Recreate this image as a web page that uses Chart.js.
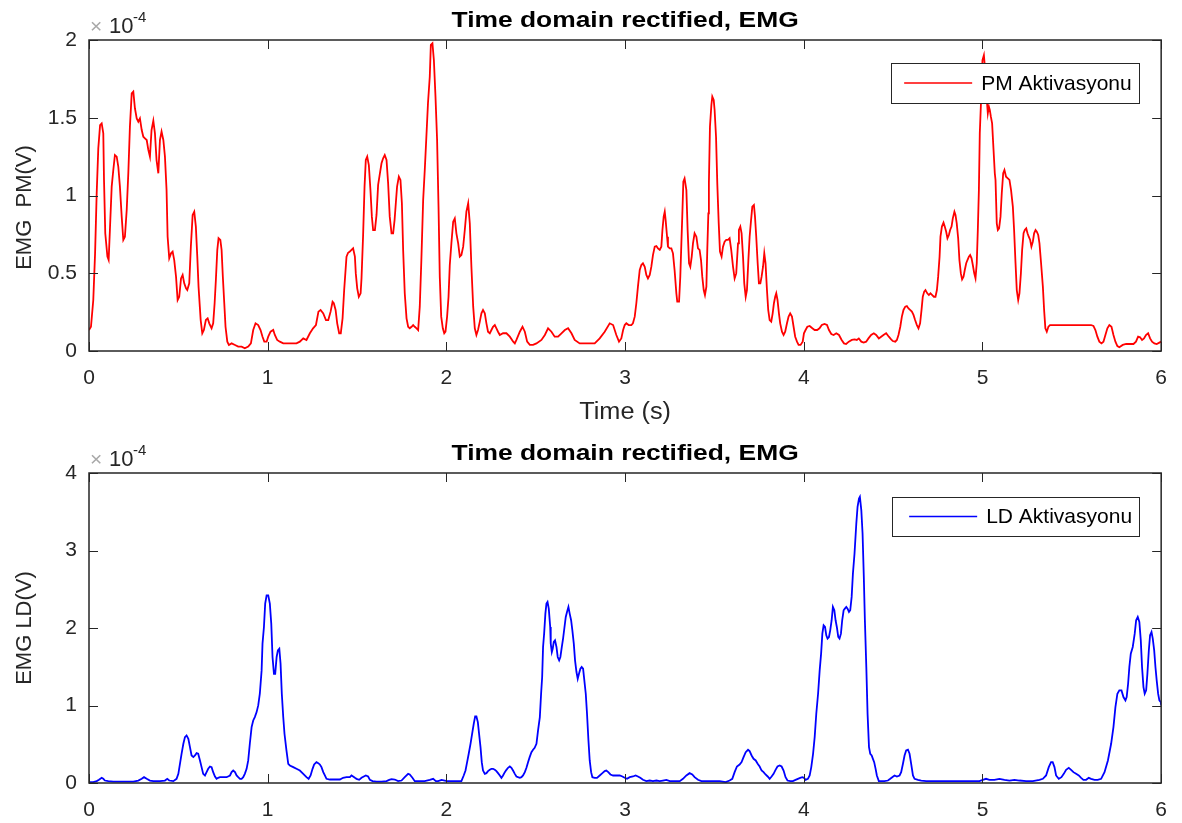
<!DOCTYPE html>
<html><head><meta charset="utf-8">
<script src="https://cdn.jsdelivr.net/npm/chart.js@4.4.1/dist/chart.umd.min.js"></script>
<style>
html,body{margin:0;padding:0;background:#fff;}
#wrap{position:relative;width:1182px;height:823px;overflow:hidden;background:#fff;}
canvas{position:absolute;left:0;background:transparent;}
#c1{top:0;} #c2{top:412px;}
</style></head><body>
<div id="wrap"><canvas id="c1" width="1182" height="440"></canvas><canvas id="c2" width="1182" height="411"></canvas></div>
<script>
// ---- data (values in units of 1e-4 V) ----
const pmPoints = [
[0,0.135],[0.011,0.156],[0.024,0.328],[0.034,0.628],[0.043,1.014],[0.052,1.303],[0.062,1.453],[0.071,1.464],[0.080,1.400],[0.084,1.100],
[0.091,0.757],[0.103,0.607],[0.110,0.585],[0.117,0.778],[0.127,1.057],[0.136,1.164],[0.145,1.260],[0.155,1.250],[0.164,1.185],[0.173,1.057],
[0.183,0.864],[0.192,0.714],[0.201,0.735],[0.211,0.907],[0.220,1.143],[0.229,1.443],[0.239,1.657],[0.248,1.668],[0.257,1.561],[0.267,1.496],
[0.276,1.475],[0.285,1.496],[0.295,1.421],[0.304,1.378],[0.313,1.368],[0.323,1.357],[0.332,1.293],[0.341,1.250],[0.350,1.421],[0.360,1.481],
[0.369,1.400],[0.378,1.228],[0.388,1.143],[0.397,1.357],[0.406,1.411],[0.416,1.357],[0.425,1.250],[0.434,1.035],[0.440,0.735],[0.449,0.596],
[0.459,0.628],[0.468,0.639],[0.477,0.585],[0.487,0.478],[0.496,0.328],[0.505,0.349],[0.515,0.467],[0.524,0.489],[0.533,0.435],[0.543,0.403],
[0.550,0.392],[0.561,0.435],[0.570,0.671],[0.580,0.875],[0.589,0.896],[0.598,0.800],[0.606,0.607],[0.613,0.414],[0.625,0.199],[0.634,0.114],
[0.643,0.135],[0.654,0.199],[0.664,0.210],[0.673,0.178],[0.686,0.146],[0.695,0.178],[0.703,0.307],[0.710,0.457],[0.718,0.650],[0.725,0.725],
[0.735,0.714],[0.742,0.650],[0.749,0.478],[0.757,0.307],[0.764,0.156],[0.774,0.060],[0.783,0.039],[0.798,0.049],[0.817,0.039],[0.835,0.028],
[0.854,0.028],[0.872,0.017],[0.891,0.028],[0.906,0.049],[0.919,0.135],[0.932,0.178],[0.947,0.167],[0.960,0.135],[0.971,0.092],[0.981,0.060],
[0.994,0.060],[1.003,0.092],[1.016,0.124],[1.031,0.135],[1.040,0.103],[1.053,0.071],[1.068,0.060],[1.087,0.049],[1.115,0.049],[1.143,0.049],
[1.161,0.049],[1.180,0.060],[1.199,0.081],[1.217,0.071],[1.236,0.114],[1.254,0.146],[1.270,0.167],[1.284,0.253],[1.296,0.264],[1.311,0.242],
[1.326,0.199],[1.339,0.199],[1.352,0.253],[1.363,0.317],[1.370,0.307],[1.380,0.264],[1.389,0.178],[1.400,0.114],[1.409,0.114],[1.419,0.210],
[1.428,0.392],[1.441,0.607],[1.450,0.632],[1.460,0.640],[1.469,0.650],[1.478,0.660],[1.488,0.607],[1.493,0.499],[1.501,0.403],[1.510,0.349],
[1.520,0.371],[1.525,0.467],[1.534,0.746],[1.542,1.057],[1.549,1.228],[1.557,1.250],[1.566,1.196],[1.575,1.035],[1.583,0.864],[1.590,0.778],
[1.600,0.778],[1.609,0.875],[1.618,1.068],[1.628,1.143],[1.637,1.207],[1.646,1.239],[1.655,1.260],[1.665,1.228],[1.674,1.078],[1.683,0.864],
[1.693,0.757],[1.702,0.757],[1.710,0.842],[1.717,0.950],[1.724,1.057],[1.734,1.121],[1.743,1.100],[1.751,0.950],[1.758,0.650],[1.767,0.371],
[1.777,0.210],[1.786,0.156],[1.795,0.146],[1.805,0.156],[1.814,0.167],[1.823,0.156],[1.833,0.146],[1.842,0.135],[1.851,0.285],[1.860,0.585],
[1.870,0.971],[1.879,1.164],[1.888,1.378],[1.897,1.593],[1.907,1.764],[1.913,1.968],[1.922,1.979],[1.930,1.871],[1.939,1.636],[1.948,1.357],
[1.956,0.928],[1.963,0.478],[1.971,0.221],[1.980,0.146],[1.988,0.114],[1.995,0.124],[2.004,0.221],[2.012,0.349],[2.019,0.553],[2.028,0.692],
[2.038,0.832],[2.047,0.853],[2.056,0.757],[2.066,0.692],[2.075,0.607],[2.084,0.617],[2.094,0.671],[2.103,0.778],[2.112,0.896],[2.122,0.950],
[2.131,0.821],[2.140,0.542],[2.150,0.285],[2.159,0.146],[2.168,0.103],[2.177,0.135],[2.187,0.189],[2.196,0.242],[2.205,0.264],[2.215,0.242],
[2.224,0.178],[2.233,0.124],[2.243,0.114],[2.252,0.135],[2.261,0.156],[2.271,0.167],[2.280,0.146],[2.289,0.124],[2.299,0.103],[2.317,0.114],
[2.336,0.114],[2.355,0.092],[2.374,0.060],[2.383,0.049],[2.392,0.071],[2.411,0.124],[2.426,0.156],[2.439,0.124],[2.452,0.060],[2.467,0.039],
[2.485,0.039],[2.504,0.049],[2.532,0.071],[2.551,0.103],[2.569,0.146],[2.588,0.124],[2.606,0.092],[2.625,0.092],[2.644,0.114],[2.663,0.135],
[2.681,0.146],[2.700,0.114],[2.718,0.071],[2.746,0.049],[2.774,0.049],[2.802,0.049],[2.830,0.049],[2.858,0.081],[2.886,0.124],[2.914,0.178],
[2.933,0.167],[2.951,0.103],[2.966,0.060],[2.979,0.081],[2.989,0.135],[2.998,0.167],[3.007,0.178],[3.020,0.167],[3.035,0.167],[3.044,0.178],
[3.054,0.221],[3.063,0.307],[3.072,0.414],[3.082,0.521],[3.091,0.553],[3.100,0.564],[3.110,0.542],[3.119,0.489],[3.128,0.467],[3.138,0.489],
[3.147,0.542],[3.156,0.617],[3.166,0.671],[3.175,0.675],[3.184,0.660],[3.194,0.650],[3.203,0.671],[3.209,0.778],[3.216,0.864],[3.222,0.896],
[3.227,0.842],[3.235,0.735],[3.240,0.671],[3.250,0.660],[3.259,0.660],[3.268,0.628],[3.277,0.521],[3.287,0.371],[3.292,0.317],[3.302,0.317],
[3.309,0.478],[3.315,0.692],[3.320,0.864],[3.326,1.089],[3.333,1.110],[3.343,1.035],[3.350,0.778],[3.358,0.564],[3.365,0.542],[3.373,0.607],
[3.380,0.692],[3.389,0.757],[3.399,0.735],[3.408,0.660],[3.417,0.650],[3.425,0.585],[3.432,0.478],[3.440,0.392],[3.447,0.360],[3.455,0.414],
[3.460,0.650],[3.466,0.885],[3.469,1.078],[3.475,1.443],[3.483,1.582],[3.488,1.636],[3.496,1.614],[3.501,1.550],[3.509,1.378],[3.516,1.078],
[3.524,0.821],[3.531,0.639],[3.540,0.607],[3.548,0.671],[3.557,0.703],[3.566,0.714],[3.576,0.714],[3.585,0.725],[3.594,0.650],[3.604,0.542],
[3.613,0.467],[3.622,0.499],[3.632,0.692],[3.637,0.778],[3.645,0.800],[3.652,0.757],[3.660,0.607],[3.667,0.435],[3.675,0.349],[3.682,0.392],
[3.690,0.585],[3.697,0.735],[3.705,0.842],[3.712,0.928],[3.721,0.939],[3.727,0.864],[3.734,0.735],[3.742,0.564],[3.749,0.435],[3.757,0.435],
[3.764,0.478],[3.772,0.542],[3.779,0.628],[3.786,0.564],[3.794,0.392],[3.801,0.264],[3.809,0.199],[3.818,0.189],[3.826,0.242],[3.833,0.307],
[3.840,0.349],[3.846,0.371],[3.853,0.328],[3.861,0.242],[3.868,0.178],[3.878,0.124],[3.887,0.103],[3.896,0.124],[3.906,0.178],[3.915,0.221],
[3.924,0.242],[3.934,0.221],[3.943,0.156],[3.952,0.092],[3.962,0.060],[3.971,0.039],[3.982,0.039],[3.994,0.060],[4.001,0.114],[4.010,0.135],
[4.020,0.156],[4.033,0.161],[4.048,0.146],[4.061,0.135],[4.075,0.135],[4.088,0.146],[4.101,0.167],[4.116,0.174],[4.130,0.167],[4.141,0.135],
[4.154,0.109],[4.167,0.103],[4.182,0.114],[4.197,0.103],[4.212,0.071],[4.225,0.049],[4.237,0.045],[4.252,0.060],[4.269,0.071],[4.284,0.075],
[4.297,0.071],[4.308,0.081],[4.322,0.060],[4.335,0.054],[4.349,0.060],[4.362,0.081],[4.377,0.103],[4.392,0.114],[4.405,0.103],[4.420,0.081],
[4.433,0.092],[4.446,0.103],[4.461,0.114],[4.476,0.092],[4.489,0.075],[4.498,0.064],[4.512,0.060],[4.521,0.071],[4.530,0.103],[4.540,0.156],
[4.549,0.221],[4.558,0.264],[4.568,0.285],[4.577,0.289],[4.586,0.274],[4.595,0.264],[4.605,0.253],[4.614,0.232],[4.623,0.199],[4.633,0.167],
[4.642,0.146],[4.651,0.178],[4.659,0.264],[4.666,0.349],[4.674,0.382],[4.681,0.392],[4.691,0.371],[4.700,0.360],[4.709,0.371],[4.719,0.360],
[4.728,0.349],[4.737,0.349],[4.745,0.392],[4.752,0.478],[4.760,0.607],[4.765,0.735],[4.773,0.800],[4.782,0.825],[4.789,0.800],[4.797,0.767],
[4.804,0.725],[4.812,0.746],[4.819,0.778],[4.827,0.800],[4.834,0.853],[4.843,0.896],[4.849,0.875],[4.856,0.821],[4.864,0.725],[4.871,0.585],
[4.879,0.499],[4.886,0.461],[4.894,0.478],[4.901,0.521],[4.909,0.564],[4.916,0.585],[4.924,0.607],[4.931,0.617],[4.939,0.596],[4.946,0.553],
[4.954,0.499],[4.961,0.467],[4.968,0.564],[4.974,0.778],[4.980,1.035],[4.985,1.400],[4.993,1.636],[5.000,1.871],[5.008,1.903],[5.015,1.807],
[5.023,1.636],[5.030,1.528],[5.036,1.571],[5.041,1.550],[5.047,1.507],[5.054,1.464],[5.062,1.293],[5.069,1.143],[5.073,1.100],[5.080,0.821],
[5.086,0.778],[5.093,0.789],[5.101,0.864],[5.108,1.014],[5.116,1.143],[5.123,1.164],[5.132,1.121],[5.142,1.110],[5.151,1.100],[5.160,1.035],
[5.170,0.928],[5.177,0.778],[5.185,0.564],[5.192,0.392],[5.200,0.328],[5.207,0.371],[5.215,0.499],[5.222,0.650],[5.230,0.757],[5.237,0.778],
[5.245,0.789],[5.252,0.757],[5.259,0.735],[5.267,0.714],[5.274,0.671],[5.282,0.703],[5.289,0.757],[5.297,0.778],[5.304,0.767],[5.312,0.746],
[5.319,0.692],[5.328,0.564],[5.338,0.414],[5.345,0.264],[5.352,0.146],[5.360,0.124],[5.369,0.156],[5.378,0.167],[5.431,0.167],[5.524,0.167],
[5.608,0.167],[5.621,0.161],[5.632,0.135],[5.643,0.092],[5.654,0.060],[5.666,0.049],[5.677,0.060],[5.688,0.103],[5.699,0.146],[5.710,0.167],
[5.722,0.156],[5.733,0.103],[5.744,0.060],[5.755,0.032],[5.766,0.024],[5.785,0.039],[5.804,0.045],[5.822,0.045],[5.845,0.045],[5.859,0.060],
[5.871,0.092],[5.882,0.088],[5.893,0.071],[5.904,0.081],[5.915,0.103],[5.927,0.114],[5.938,0.081],[5.949,0.060],[5.962,0.049],[5.975,0.045],
[5.990,0.054],[6.000,0.060]
];
const ldPoints = [
[0,0.011],[0.024,0.011],[0.043,0.024],[0.056,0.041],[0.071,0.067],[0.080,0.054],[0.089,0.032],[0.108,0.024],[0.136,0.019],[0.173,0.019],
[0.211,0.019],[0.248,0.019],[0.276,0.032],[0.295,0.054],[0.308,0.075],[0.323,0.054],[0.341,0.032],[0.360,0.024],[0.397,0.024],[0.425,0.032],
[0.438,0.054],[0.449,0.032],[0.472,0.024],[0.490,0.054],[0.500,0.118],[0.509,0.248],[0.518,0.377],[0.528,0.506],[0.537,0.592],[0.546,0.614],
[0.556,0.571],[0.565,0.463],[0.574,0.355],[0.584,0.334],[0.593,0.355],[0.602,0.385],[0.611,0.377],[0.621,0.291],[0.630,0.205],[0.639,0.118],
[0.649,0.097],[0.658,0.140],[0.667,0.183],[0.677,0.213],[0.686,0.205],[0.695,0.140],[0.705,0.084],[0.714,0.054],[0.723,0.067],[0.733,0.075],
[0.751,0.075],[0.770,0.075],[0.789,0.097],[0.798,0.140],[0.807,0.161],[0.817,0.140],[0.826,0.097],[0.835,0.075],[0.845,0.054],[0.854,0.054],
[0.863,0.075],[0.872,0.118],[0.882,0.183],[0.891,0.291],[0.900,0.506],[0.910,0.721],[0.919,0.807],[0.928,0.851],[0.938,0.915],[0.947,1.001],
[0.956,1.152],[0.966,1.453],[0.971,1.798],[0.979,2.013],[0.986,2.315],[0.994,2.422],[1.003,2.422],[1.012,2.315],[1.020,2.056],[1.027,1.626],
[1.035,1.410],[1.042,1.410],[1.050,1.626],[1.057,1.712],[1.065,1.733],[1.072,1.540],[1.079,1.152],[1.087,0.851],[1.094,0.635],[1.105,0.420],
[1.115,0.248],[1.124,0.226],[1.143,0.205],[1.161,0.183],[1.180,0.161],[1.199,0.118],[1.217,0.075],[1.229,0.054],[1.240,0.097],[1.251,0.183],
[1.260,0.239],[1.273,0.269],[1.283,0.256],[1.292,0.239],[1.301,0.205],[1.311,0.140],[1.320,0.097],[1.329,0.054],[1.348,0.045],[1.376,0.045],
[1.404,0.045],[1.422,0.067],[1.441,0.075],[1.460,0.075],[1.469,0.097],[1.478,0.084],[1.488,0.067],[1.497,0.054],[1.512,0.041],[1.525,0.067],
[1.538,0.084],[1.549,0.097],[1.562,0.084],[1.572,0.041],[1.587,0.024],[1.609,0.019],[1.637,0.019],[1.665,0.024],[1.680,0.041],[1.693,0.050],
[1.711,0.045],[1.730,0.024],[1.749,0.032],[1.767,0.075],[1.786,0.118],[1.795,0.110],[1.810,0.067],[1.823,0.024],[1.851,0.024],[1.879,0.024],
[1.907,0.041],[1.926,0.054],[1.941,0.024],[1.954,0.024],[1.973,0.041],[1.991,0.032],[2.004,0.024],[2.038,0.024],[2.084,0.024],[2.097,0.097],
[2.107,0.161],[2.116,0.269],[2.125,0.377],[2.135,0.506],[2.144,0.635],[2.153,0.764],[2.161,0.859],[2.168,0.859],[2.176,0.786],[2.183,0.635],
[2.191,0.463],[2.198,0.269],[2.205,0.161],[2.215,0.118],[2.224,0.127],[2.233,0.153],[2.243,0.170],[2.252,0.183],[2.261,0.183],[2.271,0.170],
[2.280,0.153],[2.289,0.127],[2.299,0.097],[2.308,0.067],[2.317,0.097],[2.327,0.140],[2.336,0.170],[2.345,0.196],[2.355,0.213],[2.364,0.196],
[2.373,0.161],[2.383,0.118],[2.392,0.084],[2.401,0.075],[2.411,0.067],[2.420,0.075],[2.429,0.097],[2.439,0.140],[2.448,0.196],[2.457,0.269],
[2.466,0.334],[2.476,0.398],[2.485,0.429],[2.494,0.454],[2.504,0.506],[2.513,0.678],[2.523,0.851],[2.530,1.152],[2.536,1.367],[2.541,1.755],
[2.547,1.927],[2.554,2.186],[2.560,2.315],[2.566,2.336],[2.573,2.250],[2.581,2.013],[2.584,1.798],[2.590,1.690],[2.595,1.733],[2.601,1.820],
[2.608,1.841],[2.616,1.755],[2.623,1.626],[2.631,1.583],[2.638,1.626],[2.646,1.755],[2.653,1.863],[2.661,2.013],[2.668,2.143],[2.675,2.207],
[2.683,2.272],[2.690,2.186],[2.698,2.100],[2.705,1.970],[2.713,1.798],[2.720,1.583],[2.728,1.432],[2.735,1.346],[2.742,1.410],[2.750,1.475],
[2.757,1.497],[2.765,1.475],[2.772,1.324],[2.780,1.152],[2.787,0.894],[2.795,0.549],[2.802,0.291],[2.810,0.140],[2.817,0.075],[2.830,0.067],
[2.843,0.067],[2.858,0.097],[2.873,0.127],[2.886,0.153],[2.895,0.161],[2.906,0.140],[2.918,0.110],[2.933,0.097],[2.951,0.097],[2.970,0.097],
[2.985,0.084],[2.998,0.067],[3.011,0.054],[3.026,0.075],[3.044,0.084],[3.059,0.097],[3.072,0.084],[3.085,0.067],[3.100,0.041],[3.119,0.024],
[3.138,0.032],[3.156,0.024],[3.175,0.032],[3.194,0.024],[3.212,0.032],[3.231,0.041],[3.250,0.024],[3.278,0.024],[3.306,0.024],[3.324,0.054],
[3.343,0.097],[3.361,0.127],[3.376,0.110],[3.389,0.075],[3.408,0.041],[3.427,0.024],[3.455,0.024],[3.492,0.024],[3.529,0.024],[3.563,0.011],
[3.585,0.032],[3.600,0.054],[3.613,0.140],[3.626,0.213],[3.641,0.239],[3.652,0.269],[3.663,0.334],[3.675,0.398],[3.688,0.429],[3.697,0.411],
[3.708,0.355],[3.719,0.312],[3.731,0.291],[3.742,0.248],[3.753,0.213],[3.764,0.161],[3.775,0.140],[3.786,0.110],[3.798,0.084],[3.809,0.054],
[3.820,0.084],[3.831,0.118],[3.842,0.170],[3.853,0.213],[3.865,0.226],[3.876,0.213],[3.887,0.161],[3.898,0.075],[3.909,0.032],[3.924,0.024],
[3.939,0.024],[3.954,0.041],[3.967,0.054],[3.980,0.067],[3.992,0.075],[4.001,0.067],[4.010,0.041],[4.023,0.054],[4.033,0.097],[4.042,0.205],
[4.052,0.377],[4.061,0.592],[4.070,0.894],[4.080,1.152],[4.089,1.453],[4.097,1.669],[4.104,1.927],[4.111,2.035],[4.119,2.013],[4.126,1.906],
[4.133,1.863],[4.141,1.884],[4.148,1.970],[4.156,2.100],[4.163,2.272],[4.171,2.229],[4.178,2.100],[4.185,2.013],[4.193,1.884],[4.200,1.863],
[4.208,1.927],[4.215,2.100],[4.223,2.229],[4.230,2.250],[4.238,2.272],[4.245,2.250],[4.253,2.207],[4.260,2.229],[4.268,2.401],[4.275,2.702],
[4.284,2.961],[4.294,3.348],[4.301,3.564],[4.309,3.671],[4.314,3.693],[4.322,3.521],[4.329,3.219],[4.336,2.659],[4.342,2.100],[4.350,1.497],
[4.357,0.894],[4.365,0.463],[4.372,0.377],[4.380,0.355],[4.387,0.312],[4.394,0.269],[4.402,0.183],[4.409,0.097],[4.420,0.024],[4.433,0.024],
[4.452,0.024],[4.471,0.032],[4.484,0.054],[4.495,0.075],[4.508,0.097],[4.521,0.084],[4.536,0.097],[4.545,0.140],[4.555,0.248],[4.564,0.355],
[4.573,0.420],[4.583,0.429],[4.592,0.377],[4.601,0.248],[4.611,0.097],[4.620,0.054],[4.639,0.041],[4.657,0.032],[4.685,0.024],[4.722,0.024],
[4.760,0.024],[4.797,0.024],[4.834,0.024],[4.871,0.024],[4.909,0.024],[4.946,0.024],[4.983,0.024],[5.002,0.041],[5.020,0.054],[5.039,0.041],
[5.067,0.041],[5.095,0.054],[5.123,0.041],[5.151,0.032],[5.179,0.041],[5.207,0.032],[5.244,0.024],[5.282,0.024],[5.319,0.041],[5.338,0.054],
[5.356,0.097],[5.371,0.205],[5.384,0.269],[5.393,0.269],[5.403,0.205],[5.412,0.097],[5.427,0.054],[5.442,0.075],[5.455,0.118],[5.468,0.170],
[5.483,0.196],[5.496,0.170],[5.509,0.140],[5.524,0.118],[5.539,0.097],[5.552,0.067],[5.565,0.041],[5.580,0.041],[5.595,0.067],[5.608,0.054],
[5.627,0.041],[5.645,0.041],[5.664,0.054],[5.683,0.140],[5.702,0.291],[5.720,0.506],[5.733,0.721],[5.744,0.980],[5.755,1.152],[5.766,1.195],
[5.778,1.195],[5.789,1.109],[5.800,1.066],[5.807,1.109],[5.815,1.281],[5.822,1.497],[5.830,1.669],[5.841,1.755],[5.852,1.927],[5.860,2.100],
[5.869,2.143],[5.878,2.078],[5.886,1.841],[5.893,1.497],[5.901,1.238],[5.908,1.152],[5.916,1.195],[5.923,1.410],[5.931,1.712],[5.938,1.906],
[5.946,1.949],[5.953,1.863],[5.961,1.712],[5.968,1.497],[5.975,1.324],[5.983,1.152],[5.990,1.066],[5.998,1.044],[6.000,1.001]
];
const xTicks = [0, 1, 2, 3, 4, 5, 6];
const pmTicks = [0, 0.5, 1, 1.5, 2];
const ldTicks = [0, 1, 2, 3, 4];
const plotTitle = 'Time domain rectified, EMG';
const xLabel = 'Time (s)';
const pmLabel = 'EMG  PM(V)';
const ldLabel = 'EMG LD(V)';
const pmLegend = 'PM Aktivasyonu';
const ldLegend = 'LD Aktivasyonu';
const exponentBase = '10';
const exponentPower = '-4';

// ---- drawing ----
const FONT = '"Liberation Sans", Arial, Helvetica, sans-serif';
const AX = '#262626';

const matlabAxes = {
  id: 'matlabAxes',
  afterDatasetsDraw(chart, args, o) {
    const {ctx, chartArea: a, scales: {x, y}} = chart;
    ctx.save();
    // inward ticks on all four sides
    ctx.strokeStyle = AX; ctx.lineWidth = 1;
    ctx.beginPath();
    x.ticks.forEach(t => {
      const px = Math.round(x.getPixelForValue(t.value)) + 0.5;
      ctx.moveTo(px, a.bottom); ctx.lineTo(px, a.bottom - 9);
      ctx.moveTo(px, a.top); ctx.lineTo(px, a.top + 9);
    });
    y.ticks.forEach(t => {
      const py = Math.round(y.getPixelForValue(t.value)) + 0.5;
      ctx.moveTo(a.left, py); ctx.lineTo(a.left + 9, py);
      ctx.moveTo(a.right, py); ctx.lineTo(a.right - 9, py);
    });
    ctx.stroke();
    // legend box
    const L = o.legend;
    const bx = a.right - L.right - L.width, by = a.top + L.top;
    ctx.fillStyle = '#fff';
    ctx.fillRect(bx, by, L.width, L.height);
    ctx.strokeStyle = AX; ctx.lineWidth = 1;
    ctx.strokeRect(Math.round(bx) + 0.5, Math.round(by) + 0.5, L.width, L.height);
    ctx.strokeStyle = L.color; ctx.lineWidth = 1.5;
    ctx.beginPath();
    ctx.moveTo(bx + L.lineStart, by + L.height / 2);
    ctx.lineTo(bx + L.lineEnd, by + L.height / 2);
    ctx.stroke();
    ctx.fillStyle = '#000';
    ctx.font = '21px ' + FONT;
    ctx.textAlign = 'left'; ctx.textBaseline = 'middle';
    ctx.fillText(L.text, bx + L.textX, by + L.height / 2 + 1);
    // axes box
    ctx.strokeStyle = AX; ctx.lineWidth = 1.5;
    ctx.strokeRect(a.left, a.top, a.right - a.left, a.bottom - a.top);
    // title
    ctx.fillStyle = '#000';
    ctx.save();
    ctx.translate((a.left + a.right) / 2, a.top - 13);
    ctx.scale(1.2, 1);
    ctx.font = 'bold 22px ' + FONT;
    ctx.textAlign = 'center'; ctx.textBaseline = 'alphabetic';
    ctx.fillText(plotTitle, 0, 0);
    ctx.restore();
    // exponent label
    ctx.textAlign = 'left'; ctx.textBaseline = 'alphabetic';
    ctx.fillStyle = '#a8a8a8';
    ctx.font = '21px ' + FONT;
    ctx.fillText('\u00d7', a.left + 1, a.top - 7);
    ctx.fillStyle = AX;
    ctx.font = '22px ' + FONT;
    ctx.fillText(exponentBase, a.left + 20, a.top - 7);
    ctx.font = '15px ' + FONT;
    ctx.fillText(exponentPower, a.left + 44, a.top - 18);
    // y axis label
    ctx.save();
    ctx.translate(25, (a.top + a.bottom) / 2 + o.yLabelShift);
    ctx.rotate(-Math.PI / 2);
    ctx.font = '22px ' + FONT;
    ctx.fillStyle = AX;
    ctx.textAlign = 'center'; ctx.textBaseline = 'middle';
    ctx.fillText(o.yLabel, 0, 0);
    ctx.restore();
    // x axis label
    if (o.xLabel) {
      ctx.save();
      ctx.translate((a.left + a.right) / 2, a.bottom + 68);
      ctx.scale(1.1, 1);
      ctx.font = '23px ' + FONT;
      ctx.fillStyle = AX;
      ctx.textAlign = 'center'; ctx.textBaseline = 'alphabetic';
      ctx.fillText(o.xLabel, 0, 0);
      ctx.restore();
    }
    ctx.restore();
  }
};

function fmt(v) { return String(+Number(v).toFixed(2)); }

function makeChart(id, points, color, yTicks, yMax, pluginOpts, target) {
  const cfg = {
    type: 'line',
    data: {
      datasets: [{
        data: points.map(p => ({x: p[0], y: p[1]})),
        borderColor: color,
        borderWidth: 1.8,
        pointRadius: 0,
        tension: 0,
        fill: false
      }]
    },
    options: {
      responsive: false,
      animation: false,
      events: [],
      layout: {padding: {left: 10, top: 40, right: 20, bottom: 40}},
      plugins: {
        legend: {display: false},
        tooltip: {enabled: false},
        matlabAxes: pluginOpts
      },
      scales: {
        x: {
          type: 'linear', min: 0, max: 6,
          afterBuildTicks: s => { s.ticks = xTicks.map(v => ({value: v})); },
          grid: {display: false, drawTicks: false},
          border: {display: false},
          ticks: {color: AX, font: {family: FONT, size: 21}, padding: 15, maxRotation: 0, callback: fmt}
        },
        y: {
          type: 'linear', min: 0, max: yMax,
          afterBuildTicks: s => { s.ticks = yTicks.map(v => ({value: v})); },
          grid: {display: false, drawTicks: false},
          border: {display: false},
          ticks: {color: AX, font: {family: FONT, size: 21}, padding: 12, callback: fmt}
        }
      }
    },
    plugins: [matlabAxes]
  };
  const chart = new Chart(document.getElementById(id), cfg);
  for (let k = 0; k < 4; k++) {
    const a = chart.chartArea, p = chart.options.layout.padding;
    const dl = target.left - a.left, dt = target.top - a.top, dr = a.right - target.right, db = a.bottom - target.bottom;
    if (Math.abs(dl) + Math.abs(dt) + Math.abs(dr) + Math.abs(db) < 0.5) break;
    p.left += dl; p.top += dt; p.right += dr; p.bottom += db;
    chart.update('none');
  }
  return chart;
}

makeChart('c1', pmPoints, '#ff0000', pmTicks, 2, {
  yLabel: pmLabel, yLabelShift: 12, xLabel: xLabel,
  legend: {text: pmLegend, color: '#ff0000', right: 22, top: 23, width: 248, height: 40, lineStart: 13, lineEnd: 81, textX: 90}
}, {left: 89, top: 40, right: 1162, bottom: 351});

makeChart('c2', ldPoints, '#0000ff', ldTicks, 4, {
  yLabel: ldLabel, yLabelShift: 0, xLabel: null,
  legend: {text: ldLegend, color: '#0000ff', right: 22, top: 24, width: 247, height: 39, lineStart: 17, lineEnd: 85, textX: 94}
}, {left: 89, top: 61, right: 1162, bottom: 371});
</script>
</body></html>
